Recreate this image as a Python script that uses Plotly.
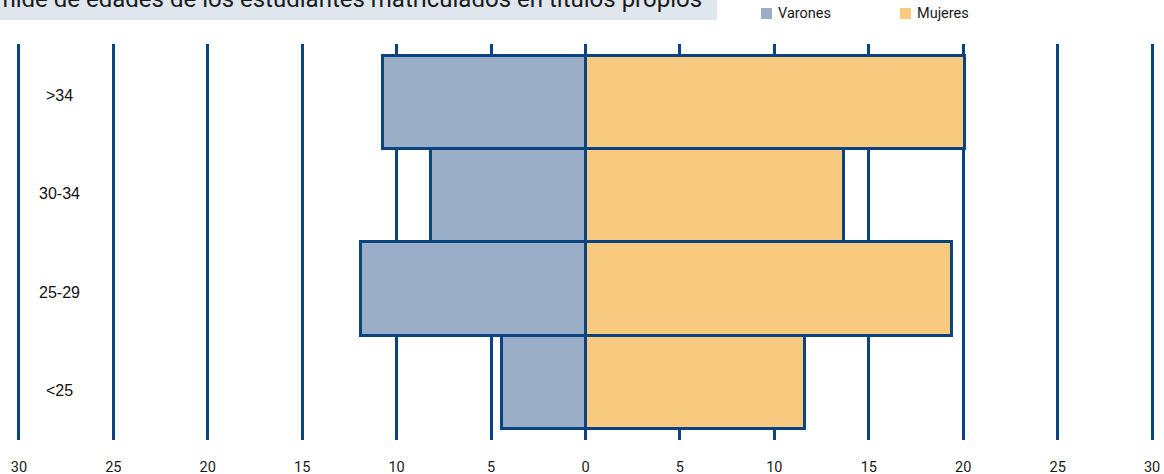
import plotly.graph_objects as go

# Age groups, bottom to top
categories = ["<25", "25-29", "30-34", ">34"]
varones = [4.4, 11.9, 8.2, 10.7]
mujeres = [11.6, 19.4, 13.7, 20.1]
tick_values = [-30, -25, -20, -15, -10, -5, 0, 5, 10, 15, 20, 25, 30]
tick_labels = [str(abs(v)) for v in tick_values]

title_text = "Pirámide de edades de los estudiantes matriculados en títulos propios"

NAVY = "#0a4381"
C_VAR = "#9aafc7"
C_MUJ = "#f8ca80"
COND = "Roboto, Arial, sans-serif"

W, H = 1164, 474
ML, MR, MT, MB = 17, 10, 44, 34
PW, PH = W - ML - MR, H - MT - MB


def px_x(px):
    """Pixel column -> paper x."""
    return (px - ML) / PW


def px_y(py):
    """Pixel row -> paper y."""
    return (H - MB - py) / PH


fig = go.Figure()
fig.add_trace(go.Bar(
    y=categories, x=[-v for v in varones], orientation="h", name="Varones",
    marker=dict(color=C_VAR, line=dict(color=NAVY, width=3)),
))
fig.add_trace(go.Bar(
    y=categories, x=mujeres, orientation="h", name="Mujeres",
    marker=dict(color=C_MUJ, line=dict(color=NAVY, width=3)),
))

# Age-group labels inside the left band
for i, c in enumerate(categories):
    fig.add_annotation(x=-27.86, y=c, xref="x", yref="y", text=c, showarrow=False,
                       yshift=-8 + 4.8 * i,
                       font=dict(family="Liberation Sans, Arial", size=16, color="#111"))

# Title strip
fig.add_shape(type="rect", xref="paper", yref="paper", x0=px_x(-5), x1=px_x(717),
              y0=px_y(20), y1=px_y(-5), line=dict(width=0), fillcolor="#dfe6ee",
              layer="below")
fig.add_annotation(xref="paper", yref="paper", x=px_x(704), xanchor="right",
                   y=px_y(15.5), yanchor="bottom", text=title_text, showarrow=False,
                   font=dict(family=COND, size=24, color="#1a1a1a"))

# Legend
for i, (name, col) in enumerate([("Varones", C_VAR), ("Mujeres", C_MUJ)]):
    left = 761 + i * 139
    fig.add_shape(type="rect", xref="paper", yref="paper", x0=px_x(left), x1=px_x(left + 11),
                  y0=px_y(19), y1=px_y(8), line=dict(width=0), fillcolor=col)
    fig.add_annotation(xref="paper", yref="paper", x=px_x(left + 15), xanchor="left",
                       y=px_y(13.5), yanchor="middle", text=name, showarrow=False,
                       font=dict(family=COND, size=14.5, color="#1a1a1a"))

fig.update_layout(
    width=W, height=H,
    margin=dict(l=ML, r=MR, t=MT, b=MB, autoexpand=False),
    barmode="relative", bargap=0,
    showlegend=False,
    plot_bgcolor="white", paper_bgcolor="white",
    xaxis=dict(range=[-30.1, 30.1], tickvals=tick_values, ticktext=tick_labels,
               showgrid=True, gridcolor=NAVY, gridwidth=3, zeroline=False,
               ticks="", showline=False, ticklabelstandoff=16, automargin=False,
               tickfont=dict(family=COND, size=14.5, color="#1a1a1a")),
    yaxis=dict(range=[-0.62, 3.625], showticklabels=False, showgrid=False,
               zeroline=False, ticks="", automargin=False),
)

fig.write_html("out.html")
